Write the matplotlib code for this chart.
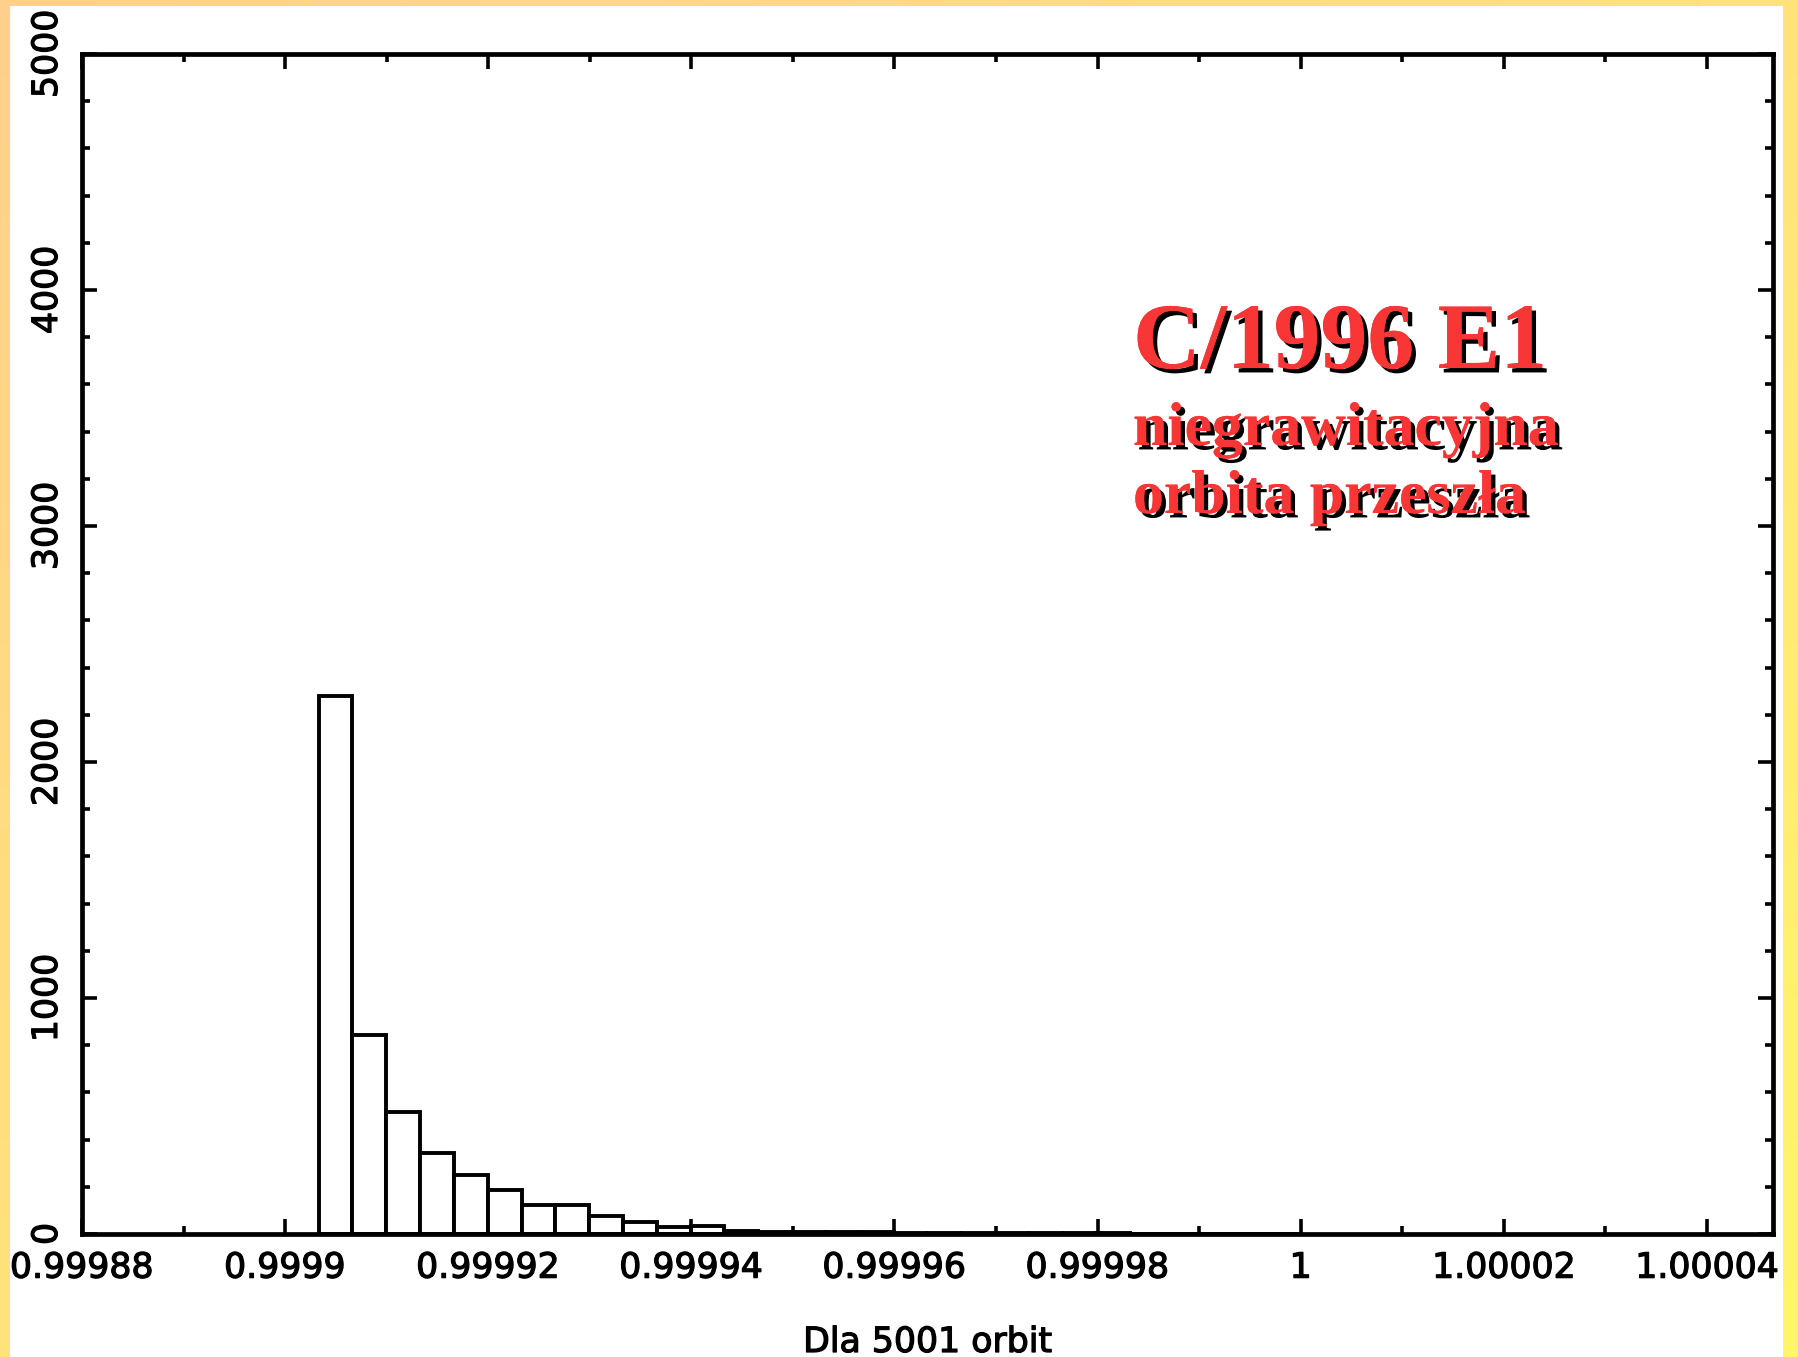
import numpy as np
import matplotlib
matplotlib.use("Agg")
import matplotlib.pyplot as plt
from matplotlib import patheffects
from matplotlib.patches import Rectangle
from matplotlib.ticker import MultipleLocator, FixedLocator, FixedFormatter

# ---- data ----
x_min, x_max = 0.99988, 1.0000465
first_bin = 0.9999033      # left edge of first non-empty bin
bin_width = 3.33e-6
counts = [2280, 842, 516, 345, 249, 187, 125, 123, 77, 52, 28, 33, 12,
          10, 9, 8, 7, 6, 5, 5, 4, 4, 3, 3, 2, 2, 2, 1, 1]
x_ticks = [0.99988, 0.9999, 0.99992, 0.99994, 0.99996, 0.99998, 1.0, 1.00002, 1.00004]
x_tick_labels = ["0.99988", "0.9999", "0.99992", "0.99994", "0.99996",
                 "0.99998", "1", "1.00002", "1.00004"]
y_ticks = [0, 1000, 2000, 3000, 4000, 5000]
y_tick_labels = ["0", "1000", "2000", "3000", "4000", "5000"]
x_label = "Dla 5001 orbit"
title_lines = ["C/1996 E1", "niegrawitacyjna", "orbita przeszła"]

W, H = 1799, 1357
fig = plt.figure(figsize=(W / 100, H / 100), dpi=100)

# background gradient (orange top-left -> yellow bottom-right)
bg = fig.add_axes([0, 0, 1, 1], zorder=-10)
gx, gy = np.meshgrid(np.linspace(0, 1, 200), np.linspace(0, 1, 200))
t = np.clip((gx + gy) / 2, 0, 1)
c0 = np.array([255, 208, 140]) / 255
c1 = np.array([255, 246, 104]) / 255
img = c0[None, None, :] * (1 - t[..., None]) + c1[None, None, :] * t[..., None]
bg.imshow(img, extent=[0, 1, 0, 1], aspect="auto", origin="upper")
bg.set_axis_off()
bg.add_patch(Rectangle((10 / W, 0), (1783 - 10) / W, 1 - 6 / H,
                       facecolor="white", edgecolor="none",
                       transform=bg.transAxes, zorder=5))

left, right, top, bottom = 82, 1773, 54, 1234
ax = fig.add_axes([left / W, 1 - bottom / H, (right - left) / W, (bottom - top) / H])
ax.set_facecolor("white")

edges = first_bin + bin_width * np.arange(len(counts))
ax.bar(edges, counts, width=bin_width, align="edge", facecolor="white",
       edgecolor="black", linewidth=2.8, zorder=2)

ax.set_xlim(x_min, x_max)
ax.set_ylim(0, 5000)

ax.xaxis.set_major_locator(FixedLocator(x_ticks))
ax.xaxis.set_major_formatter(FixedFormatter(x_tick_labels))
ax.xaxis.set_minor_locator(MultipleLocator(0.00001))
ax.yaxis.set_major_locator(FixedLocator(y_ticks))
ax.yaxis.set_major_formatter(FixedFormatter(y_tick_labels))
ax.yaxis.set_minor_locator(MultipleLocator(200))

font = "DejaVu Sans"
heavy = [patheffects.withStroke(linewidth=0.9, foreground="black")]
ax.tick_params(which="both", direction="in", top=True, right=True, width=2.6,
               colors="black")
ax.tick_params(which="major", length=11)
ax.tick_params(which="minor", length=6)
ax.tick_params(axis="x", which="major", labelsize=25, pad=12)
ax.tick_params(axis="y", which="major", labelsize=25, pad=13)
for lab in ax.get_xticklabels():
    lab.set_fontfamily(font)
    lab.set_path_effects(heavy)
for lab in ax.get_yticklabels():
    lab.set_fontfamily(font)
    lab.set_rotation(90)
    lab.set_va("center")
    lab.set_path_effects(heavy)
for s in ax.spines.values():
    s.set_linewidth(3.4)
    s.set_zorder(3)

fig.text((left + right) / 2 / W, 1 - 1352 / H, x_label, ha="center",
         va="baseline", fontsize=25, family=font, path_effects=heavy)

red = "#F83636"
shadow = [patheffects.withSimplePatchShadow(offset=(3.2, -3.2), shadow_rgbFace="black",
                                            alpha=1.0),
          patheffects.Normal()]
tx = 1133 / W
fig.text(tx, 1 - 368 / H, title_lines[0], fontsize=67.5, color=red, weight="bold",
         family="Liberation Serif", va="baseline", ha="left", path_effects=shadow)
fig.text(tx, 1 - 445 / H, title_lines[1], fontsize=44.5, color=red, weight="bold",
         family="Liberation Serif", va="baseline", ha="left", path_effects=shadow)
fig.text(tx, 1 - 513 / H, title_lines[2], fontsize=44.5, color=red, weight="bold",
         family="Liberation Serif", va="baseline", ha="left", path_effects=shadow)

fig.savefig("out.png", dpi=100)
